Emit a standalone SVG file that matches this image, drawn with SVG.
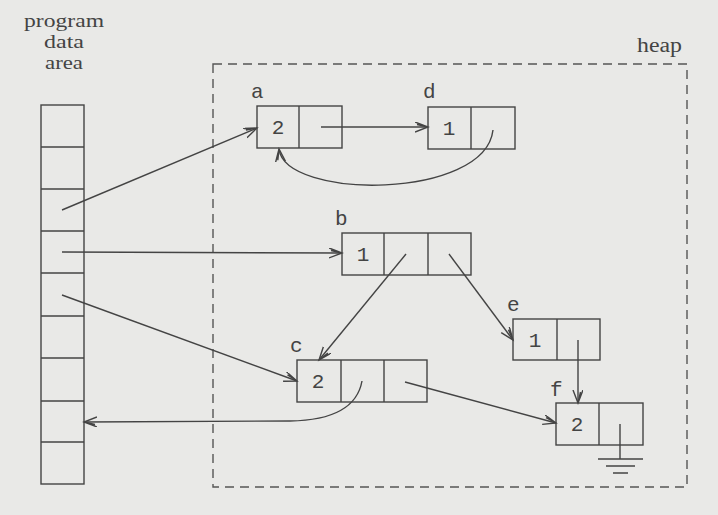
<svg xmlns="http://www.w3.org/2000/svg" width="718" height="515" viewBox="0 0 718 515">
<style>
.bg{fill:#e9e9e7}
.box{fill:none;stroke:#444;stroke-width:1.4}
.ln{fill:none;stroke:#444;stroke-width:1.4}
.dash{fill:none;stroke:#555;stroke-width:1.4;stroke-dasharray:9,6}
.ser{font-family:"Liberation Serif","DejaVu Serif",serif;font-size:18px;fill:#444}
.mono{font-family:"Liberation Mono","DejaVu Sans Mono",monospace;font-size:21px;fill:#444}
.val{text-anchor:middle}
</style>
<defs>
<marker id="arr" markerUnits="userSpaceOnUse" markerWidth="16" markerHeight="12" refX="13" refY="5" orient="auto" viewBox="0 0 16 12">
<path d="M0,0 L13,5 L0,10 M2,2.5 L13,5" fill="none" stroke="#444" stroke-width="1.4"/>
</marker>
</defs>
<rect class="bg" x="0" y="0" width="718" height="515"/>
<g id="labels">
<text class="ser" x="24" y="27" textLength="80" lengthAdjust="spacingAndGlyphs">program</text>
<text class="ser" x="44" y="48" textLength="40" lengthAdjust="spacingAndGlyphs">data</text>
<text class="ser" x="45" y="69" textLength="38" lengthAdjust="spacingAndGlyphs">area</text>
<text class="ser" x="637" y="52" textLength="45" lengthAdjust="spacingAndGlyphs" style="font-size:20px">heap</text>
</g>
<g id="heap">
<rect class="dash" x="213" y="64" width="474" height="423"/>
</g>
<g id="program-data">
<rect class="box" x="41" y="105" width="43" height="379"/>
<path class="ln" d="M41,147H84M41,189H84M41,231H84M41,273H84M41,316H84M41,358H84M41,401H84M41,442H84"/>
</g>
<g id="node-a">
<rect class="box" x="257" y="106" width="85" height="42"/>
<path class="ln" d="M299,106V148"/>
<text class="mono" x="251" y="98">a</text>
<text class="mono val" x="278" y="134">2</text>
</g>
<g id="node-d">
<rect class="box" x="428" y="107" width="87" height="42"/>
<path class="ln" d="M471,107V149"/>
<text class="mono" x="423" y="98">d</text>
<text class="mono val" x="449" y="135">1</text>
</g>
<g id="node-b">
<rect class="box" x="342" y="233" width="129" height="42"/>
<path class="ln" d="M384,233V275M428,233V275"/>
<text class="mono" x="335" y="225">b</text>
<text class="mono val" x="363" y="261">1</text>
</g>
<g id="node-c">
<rect class="box" x="297" y="360" width="130" height="42"/>
<path class="ln" d="M341,360V402M384,360V402"/>
<text class="mono" x="290" y="352">c</text>
<text class="mono val" x="318" y="388">2</text>
</g>
<g id="node-e">
<rect class="box" x="513" y="319" width="87" height="41"/>
<path class="ln" d="M557,319V360"/>
<text class="mono" x="507" y="311">e</text>
<text class="mono val" x="535" y="347">1</text>
</g>
<g id="node-f">
<rect class="box" x="556" y="403" width="87" height="42"/>
<path class="ln" d="M599,403V445"/>
<text class="mono" x="550" y="396">f</text>
<text class="mono val" x="577" y="431">2</text>
<path class="ln" d="M620,424V459M598,459H643M606,466H635M613,473H628"/>
</g>
<g id="connectors">
<path class="ln" marker-end="url(#arr)" d="M62,210L257,128"/>
<path class="ln" marker-end="url(#arr)" d="M62,252L342,253"/>
<path class="ln" marker-end="url(#arr)" d="M62,295L297,381"/>
<path class="ln" marker-end="url(#arr)" d="M321,127L428,127"/>
<path class="ln" marker-end="url(#arr)" d="M493,130C485,200 285,200 279,149"/>
<path class="ln" marker-end="url(#arr)" d="M406,254L319,360"/>
<path class="ln" marker-end="url(#arr)" d="M449,254L513,340"/>
<path class="ln" marker-end="url(#arr)" d="M578,340L578,403"/>
<path class="ln" marker-end="url(#arr)" d="M405,382L556,423"/>
<path class="ln" marker-end="url(#arr)" d="M362,381Q355,420 290,421L84,422"/>
</g>
</svg>
